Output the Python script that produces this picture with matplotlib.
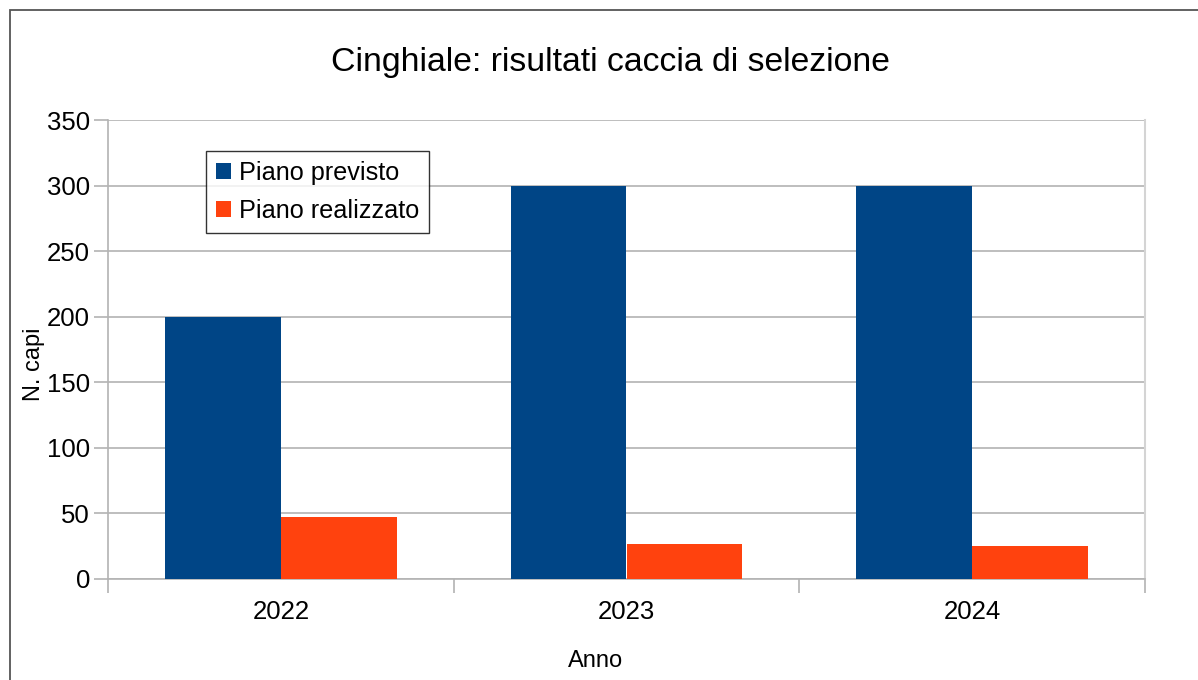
import matplotlib.pyplot as plt
from matplotlib.patches import Rectangle
import numpy as np

plt.rcParams['font.family'] = ['Liberation Sans', 'DejaVu Sans']

# Dati: capi di cinghiale per anno
anni = ['2022', '2023', '2024']
piano_previsto = [200, 300, 300]
piano_realizzato = [47, 27, 25]

BLU = '#004586'
ARANCIO = '#ff420e'
GRIGIO = '#b3b3b3'

fig = plt.figure(figsize=(11.98, 6.8), dpi=100)
ax = fig.add_axes([108 / 1198, 1 - 579 / 680, (1145 - 108) / 1198, (579 - 120) / 680])

x = np.arange(len(anni))
w = 0.335
ax.bar(x - w / 2, piano_previsto, w, color=BLU, label='Piano previsto', zorder=3)
ax.bar(x + w / 2, piano_realizzato, w, color=ARANCIO, label='Piano realizzato', zorder=3)

ax.set_xlim(-0.5, len(anni) - 0.5)
ax.set_ylim(0, 350)
ax.set_yticks(np.arange(0, 351, 50))
ax.yaxis.grid(True, color=GRIGIO, linewidth=1.2, zorder=0)

# etichette al centro, tacche sui confini delle categorie
ax.set_xticks(x)
ax.set_xticklabels(anni)
ax.set_xticks(np.arange(-0.5, len(anni), 1), minor=True)
ax.tick_params(axis='x', which='major', length=0, pad=15, labelsize=18.5)
ax.tick_params(axis='x', which='minor', length=10, color=GRIGIO, width=1.2)
ax.tick_params(axis='y', length=10, color=GRIGIO, width=1.2, pad=3, labelsize=18.5)

for lato in ['left', 'bottom']:
    ax.spines[lato].set_color(GRIGIO)
    ax.spines[lato].set_linewidth(1.2)
ax.spines['right'].set_color('#d4d4d4')
ax.spines['right'].set_linewidth(1.5)
ax.spines['top'].set_visible(False)

ax.set_ylabel('N. capi', fontsize=17, va='center')
ax.yaxis.set_label_coords((34 - 108) / 1037, (579 - 364) / 459)
ax.set_xlabel('Anno', fontsize=17, va='center')
ax.xaxis.set_label_coords((596 - 108) / 1037, (579 - 661) / 459)

fig.suptitle('Cinghiale: risultati caccia di selezione', fontsize=24.3,
             x=610 / 1198, y=1 - 63 / 680, va='center')

leg = ax.legend(loc='upper left', bbox_to_anchor=((206 - 108) / 1037, 1 - (151 - 120) / 459),
                fontsize=18.2, frameon=True, fancybox=False, edgecolor='black',
                handlelength=0.6, handleheight=0.6, handletextpad=0.3, borderpad=0.4,
                labelspacing=0.55, borderaxespad=0)
leg.get_frame().set_linewidth(1.0)

# cornice esterna del grafico
fig.patches.append(Rectangle((9.5 / 1198, -0.1), 1.2, 1 - 10.5 / 680 + 0.1,
                             transform=fig.transFigure, fill=False,
                             edgecolor='#555555', linewidth=1.3))

fig.savefig('out.png', dpi=100)
